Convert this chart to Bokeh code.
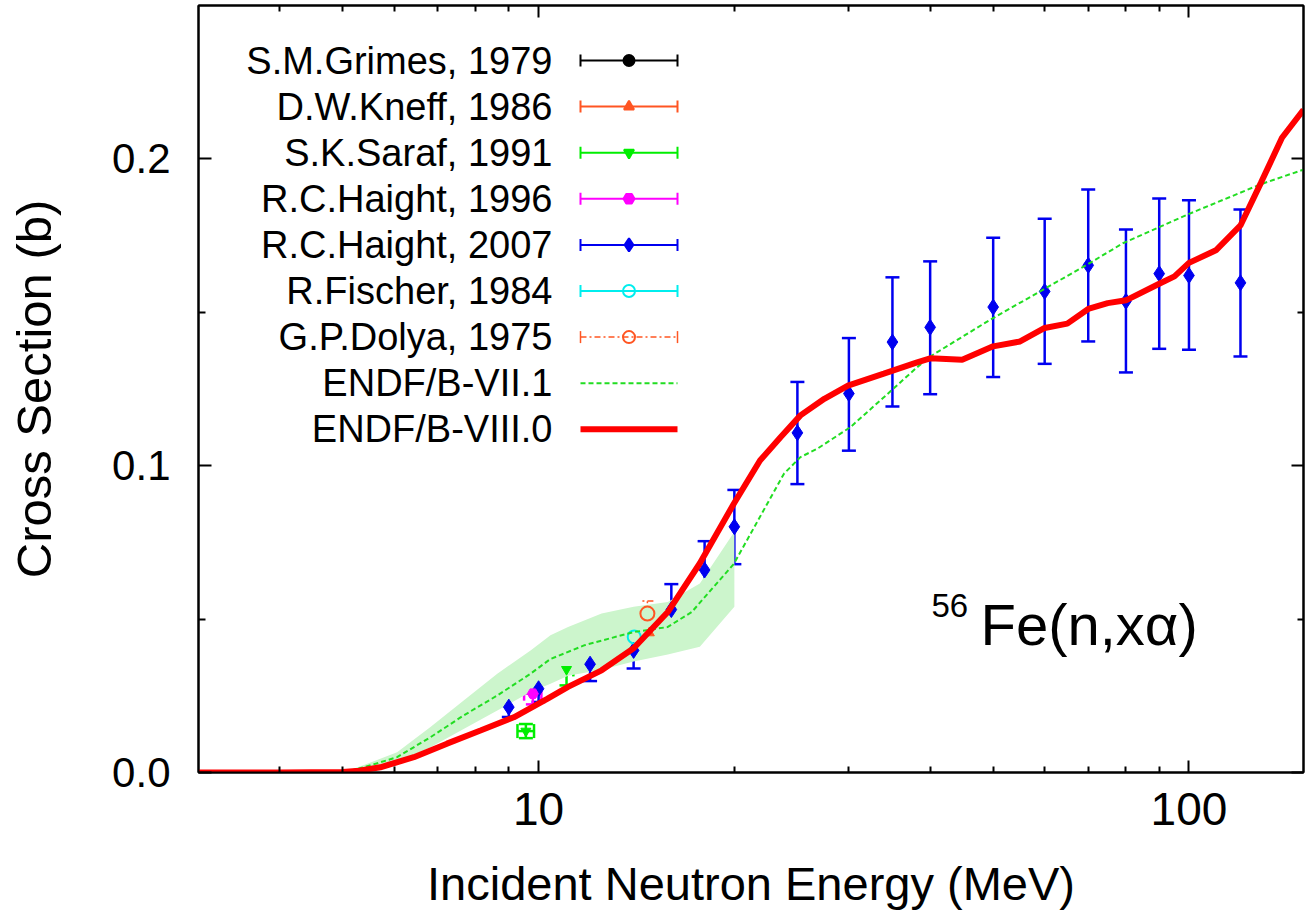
from bokeh.plotting import figure
from bokeh.models import (Range1d, LinearScale, LogAxis, LinearAxis, FixedTicker,
                          PrintfTickFormatter, CustomJSTickFormatter, Whisker, TeeHead,
                          ColumnDataSource)
from bokeh.core.properties import value
from bokeh.embed import file_html
from bokeh.resources import INLINE

# ---------------- data ----------------
# ENDF/B-VIII.0 (red, thick)
e8_E = [3.0, 4.0, 5.0, 5.3, 5.71, 6.43, 7.23, 8.14, 9.16, 10.31, 11.1, 12.5, 14.0, 15.8,
        17.7, 19.96, 21.9, 23.55, 25.27, 27.5, 29.9, 33.95, 38.2, 40.0, 44.8, 50.0, 55.0,
        60.0, 65.0, 70.0, 75.0, 80.0, 90.0, 95.0, 100.0, 110.0, 120.0, 129.0, 139.0, 150.0]
e8_y = [0.0, 0.0, 0.0002, 0.0006, 0.0017, 0.0050, 0.0094, 0.0137, 0.0180, 0.0240, 0.0279,
        0.0333, 0.0405, 0.0523, 0.0682, 0.0876, 0.1017, 0.1093, 0.1164, 0.1218, 0.1261,
        0.1300, 0.1337, 0.1350, 0.1345, 0.1389, 0.1405, 0.1449, 0.1463, 0.1511, 0.1530,
        0.1539, 0.1593, 0.1617, 0.1661, 0.1702, 0.1783, 0.1922, 0.2069, 0.2160]

# ENDF/B-VII.1 (green, dashed)
e7_E = [3.0, 5.0, 5.39, 6.06, 6.82, 7.67, 8.64, 9.72, 10.43, 11.77, 13.24, 14.03, 15.78,
        17.2, 18.5, 19.96, 21.18, 22.47, 23.84, 25.27, 26.81, 30.17, 33.95, 38.2, 40.0,
        49.5, 59.7, 69.8, 79.3, 99.6, 128.8, 150.0]
e7_y = [0.0, 0.0, 0.0017, 0.0050, 0.0115, 0.0186, 0.0251, 0.0322, 0.0370, 0.0415, 0.0444,
        0.0458, 0.0474, 0.0523, 0.0600, 0.0680, 0.0778, 0.0876, 0.0974, 0.1028, 0.1055,
        0.1126, 0.1223, 0.1321, 0.1356, 0.1476, 0.1574, 0.1656, 0.1726, 0.1819, 0.1917,
        0.1965]

# uncertainty band (light green)
band_E = [5.0, 5.4, 6.06, 6.82, 7.67, 8.64, 9.72, 10.43, 11.1, 12.5, 14.0, 15.8, 17.7, 20.0]
band_hi = [0.0, 0.0025, 0.0066, 0.0148, 0.0235, 0.0322, 0.0398, 0.0447, 0.0474, 0.0518,
           0.0540, 0.0556, 0.0616, 0.0785]
band_lo = [0.0, 0.0010, 0.0034, 0.0082, 0.0142, 0.0202, 0.0262, 0.0289, 0.0315, 0.0335,
           0.0362, 0.0385, 0.0410, 0.0540]

# R.C.Haight, 2007 (blue diamonds)
h07_E = [9, 10, 12, 14, 16, 18, 20, 25, 30, 35, 40, 50, 60, 70, 80, 90, 100, 120]
h07_y = [0.0213, 0.0273, 0.0353, 0.0398, 0.0531, 0.0660, 0.0801, 0.1107, 0.1235, 0.1403,
         0.1451, 0.1517, 0.1568, 0.1653, 0.1536, 0.1626, 0.1620, 0.1596]
h07_hi = [0.0241, 0.0309, 0.0404, 0.0458, 0.0614, 0.0754, 0.0921, 0.1273, 0.1416, 0.1614,
          0.1666, 0.1743, 0.1805, 0.1900, 0.1770, 0.1871, 0.1865, 0.1835]
h07_lo = [0.0181, 0.0230, 0.0298, 0.0339, 0.0455, 0.0559, 0.0679, 0.0940, 0.1049, 0.1193,
          0.1233, 0.1289, 0.1332, 0.1405, 0.1304, 0.1381, 0.1378, 0.1356]

# R.C.Haight, 1996 (magenta)
h96_E = [9.8]; h96_y = [0.0257]; h96_dy = [0.0035]; h96_dE = [0.3]
# S.K.Saraf, 1991 (green)
sar_E = [9.56, 11.04]; sar_y = [0.0135, 0.0336]; sar_dy = [0.0023, 0.0052]; sar_dE = [0.28, 0.27]
# R.Fischer, 1984 (cyan)
fis_E = [14.03]; fis_y = [0.0442]; fis_dy = [0.0015]; fis_dE = [0.5]
# D.W.Kneff, 1986 (orange)
kne_E = [14.8]; kne_y = [0.0455]; kne_dy = [0.0028]
# G.P.Dolya, 1975 (orange, dash-dot)
dol_E = [14.7]; dol_y = [0.0518]; dol_dy = [0.0041]

x_ticks = [10, 100]
x_minor = [4, 5, 6, 7, 8, 9, 20, 30, 40, 50, 60, 70, 80, 90]
y_ticks = [0.0, 0.1, 0.2]
y_minor = [0.05, 0.15]

legend_labels = ["S.M.Grimes, 1979", "D.W.Kneff, 1986", "S.K.Saraf, 1991",
                 "R.C.Haight, 1996", "R.C.Haight, 2007", "R.Fischer, 1984",
                 "G.P.Dolya, 1975", "ENDF/B-VII.1", "ENDF/B-VIII.0"]

# ---------------- style / layout ----------------
FONT = "Liberation Sans"
BLACK = "#000000"
ORANGE = "#FF5522"
GREEN = "#00EE00"
MAGENTA = "#FF00FF"
BLUE = "#0000F0"
CYAN = "#00EEEE"
DASHGREEN = "#22DD22"
RED = "#FF0000"
BANDGREEN = "#CCF5CC"

W, H = 1312, 913
FL, FR, FT, FB = 198, 1303, 5, 772
FW, FH = FR - FL, FB - FT

p = figure(width=W, height=H, x_axis_type="log",
           x_range=Range1d(3, 150), y_range=Range1d(0, 0.25),
           output_backend="svg", toolbar_location=None,
           min_border_left=FL, min_border_right=W - FR,
           min_border_top=FT, min_border_bottom=H - FB)
p.grid.visible = False
p.background_fill_color = "white"
p.border_fill_color = "white"
p.outline_line_color = "black"
p.outline_line_width = 2

# pixel space overlay (relative to frame top-left) for legend & annotation
p.extra_x_ranges = {"px": Range1d(0, FW)}
p.extra_y_ranges = {"px": Range1d(FH, 0)}
p.extra_x_scales = {"px": LinearScale()}
p.extra_y_scales = {"px": LinearScale()}

def sx(x):
    return x - FL

def sy(y):
    return y - FT

# axes
xa = p.xaxis[0]
xa.ticker = FixedTicker(ticks=x_ticks, minor_ticks=x_minor)
xa.formatter = PrintfTickFormatter(format="%d")
xa.axis_label = "Incident Neutron Energy (MeV)"
ya = p.yaxis[0]
ya.ticker = FixedTicker(ticks=y_ticks, minor_ticks=y_minor)
ya.formatter = PrintfTickFormatter(format="%.1f")
ya.axis_label = "Cross Section (b)"

blank = CustomJSTickFormatter(code="return '';")
top = LogAxis(ticker=FixedTicker(ticks=x_ticks, minor_ticks=x_minor), formatter=blank)
right = LinearAxis(ticker=FixedTicker(ticks=y_ticks, minor_ticks=y_minor), formatter=blank)
p.add_layout(top, "above")
p.add_layout(right, "right")

for ax in (xa, ya, top, right):
    ax.axis_line_color = "black"
    ax.axis_line_width = 2
    ax.major_tick_line_width = 2
    ax.minor_tick_line_width = 2
    ax.major_tick_out = 0
    ax.minor_tick_out = 0
    ax.major_tick_in = 12
    ax.minor_tick_in = 6
    ax.major_label_text_font = FONT
    ax.axis_label_text_font = FONT
    ax.axis_label_text_font_style = "normal"
    ax.axis_label_text_color = "black"
    ax.major_label_text_color = "black"
for ax in (top, right):
    ax.major_label_text_font_size = "1px"
    ax.major_label_standoff = 0
xa.major_label_text_font_size = "46px"
xa.major_label_standoff = 20
xa.axis_label_text_font_size = "47px"
xa.axis_label_standoff = 29
ya.major_label_text_font_size = "42px"
ya.major_label_standoff = 28
ya.axis_label_text_font_size = "49px"
ya.axis_label_standoff = 48
ya.minor_tick_in = 7
ya.major_tick_in = 13

# band
p.varea(x=band_E, y1=band_lo, y2=band_hi, fill_color=BANDGREEN, fill_alpha=1.0)

def whisk(base, lo, hi, color, width, cap, dim, dash="solid"):
    src = ColumnDataSource(dict(base=base, lower=lo, upper=hi))
    w = Whisker(source=src, base="base", lower="lower", upper="upper", dimension=dim,
                line_color=color, line_width=width, line_dash=dash,
                upper_head=TeeHead(size=cap, line_color=color, line_width=width, line_dash=dash),
                lower_head=TeeHead(size=cap, line_color=color, line_width=width, line_dash=dash))
    p.add_layout(w)

def xy_err(E, y, dE, dy, color, width, cap, dash="solid"):
    whisk(E, [a - b for a, b in zip(y, dy)], [a + b for a, b in zip(y, dy)],
          color, width, cap, "height", dash)
    whisk(y, [a - b for a, b in zip(E, dE)], [a + b for a, b in zip(E, dE)],
          color, width, cap, "width", dash)

# experimental data
whisk(h07_E, h07_lo, h07_hi, BLUE, 2.5, 14, "height")
p.scatter(h07_E, h07_y, marker="diamond", size=16, color=BLUE)

xy_err(sar_E, sar_y, sar_dE, sar_dy, GREEN, 2.5, 14)
p.scatter(sar_E, sar_y, marker="inverted_triangle", size=10, color=GREEN)

xy_err(h96_E, h96_y, h96_dE, h96_dy, MAGENTA, 2.5, 14)
p.scatter(h96_E, h96_y, marker="hex", size=11, color=MAGENTA)

xy_err(fis_E, fis_y, fis_dE, fis_dy, CYAN, 2.5, 12)
p.scatter(fis_E, fis_y, marker="circle", size=13, line_color=CYAN, fill_color=None, line_width=2)

whisk(kne_E, [a - b for a, b in zip(kne_y, kne_dy)], [a + b for a, b in zip(kne_y, kne_dy)],
      ORANGE, 2.5, 14, "height")
p.scatter(kne_E, kne_y, marker="triangle", size=10, color=ORANGE)

whisk(dol_E, [a - b for a, b in zip(dol_y, dol_dy)], [a + b for a, b in zip(dol_y, dol_dy)],
      ORANGE, 1.5, 12, "height", "6 3 2 3")
p.scatter(dol_E, dol_y, marker="circle", size=14, line_color=ORANGE, fill_color=None, line_width=2)

# evaluations
p.line(e7_E, e7_y, line_color=DASHGREEN, line_width=2, line_dash="5 3")
p.line(e8_E, e8_y, line_color=RED, line_width=6)

# ---------------- legend (labels right, samples on the right) ----------------
LEG_Y0, LEG_DY = 60, 46.1
TXT_R, S0, S1 = 552, 580, 677
SC = (S0 + S1) / 2
rows = [LEG_Y0 + i * LEG_DY for i in range(len(legend_labels))]
p.text(x=[sx(TXT_R)] * len(rows), y=[sy(r) for r in rows], text=legend_labels,
       text_align="right", text_baseline="alphabetic", text_font=value(FONT),
       text_font_size="38px", text_color="black", x_range_name="px", y_range_name="px")

styles = [
    (BLACK, "solid", 2, "circle", 11, BLACK, True),
    (ORANGE, "solid", 2, "triangle", 10, ORANGE, True),
    (GREEN, "solid", 2, "inverted_triangle", 10, GREEN, True),
    (MAGENTA, "solid", 2, "hex", 11, MAGENTA, True),
    (BLUE, "solid", 2, "diamond", 13, BLUE, True),
    (CYAN, "solid", 2, "circle", 12, None, True),
    (ORANGE, "6 3 2 3", 1.5, "circle", 12, None, True),
    (DASHGREEN, "5 3", 2, None, 0, None, False),
    (RED, "solid", 6, None, 0, None, False),
]
for r, (col, dash, lw, mk, ms, fill, caps) in zip(rows, styles):
    y = sy(r)
    p.segment(x0=[sx(S0)], y0=[y], x1=[sx(S1)], y1=[y], line_color=col, line_width=lw,
              line_dash=dash, x_range_name="px", y_range_name="px")
    if caps:
        p.segment(x0=[sx(S0), sx(S1)], y0=[y - 6, y - 6], x1=[sx(S0), sx(S1)], y1=[y + 6, y + 6],
                  line_color=col, line_width=lw, x_range_name="px", y_range_name="px")
    if mk:
        p.scatter(x=[sx(SC)], y=[y], marker=mk, size=ms, line_color=col,
                  fill_color=fill, line_width=2, x_range_name="px", y_range_name="px")

# ---------------- annotation ----------------
p.text(x=[sx(931)], y=[sy(605)], text=["56"], text_align="left", text_baseline="alphabetic",
       text_font=value(FONT), text_font_size="33px", text_color="black",
       x_range_name="px", y_range_name="px")
p.text(x=[sx(980)], y=[sy(624)], text=["Fe(n,xα)"], text_align="left", text_baseline="alphabetic",
       text_font=value(FONT), text_font_size="58px", text_color="black",
       x_range_name="px", y_range_name="px")

open("out.html", "w").write(file_html(p, INLINE))
